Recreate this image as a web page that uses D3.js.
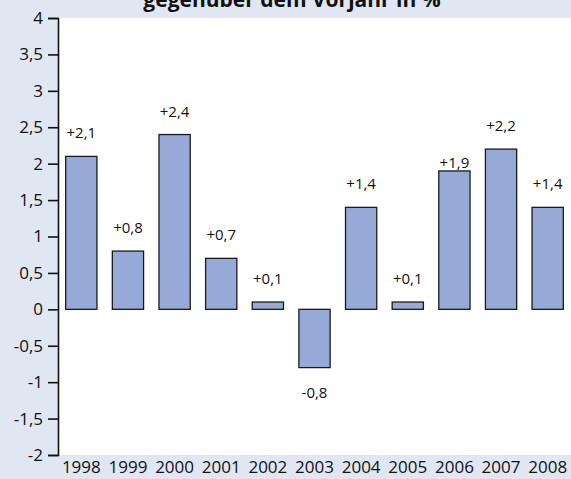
<!DOCTYPE html>
<html>
<head>
<meta charset="utf-8">
<script src="https://cdn.jsdelivr.net/npm/d3@7"></script>
<style>
    html, body { margin: 0; padding: 0; background: #e0e7f2; }
    svg { display: block; font-family: "Open Sans", sans-serif; }
</style>
</head>
<body>
<div id="chart"></div>
<script>
// Veränderung gegenüber dem Vorjahr in %
const years = ['1998', '1999', '2000', '2001', '2002', '2003', '2004', '2005', '2006', '2007', '2008'];
const changes = [2.1, 0.8, 2.4, 0.7, 0.1, -0.8, 1.4, 0.1, 1.9, 2.2, 1.4];
const yTicks = [-2, -1.5, -1, -0.5, 0, 0.5, 1, 1.5, 2, 2.5, 3, 3.5, 4];
const titleText = 'gegenüber dem Vorjahr in %';

const width = 571;
const height = 479;
const margin = { top: 18, right: 0, bottom: 24, left: 58 };

// label gap above bar (the 2006 label sits lower in the original)
const labelGap = d => d.year === '2006' ? 3 : 18;

const fmt = v => (v > 0 ? '+' : '') + v.toFixed(1).replace('.', ',');
const tickFmt = v => String(v).replace('.', ',');

const svg = d3.select('#chart')
    .append('svg')
    .attr('width', width)
    .attr('height', height);

// white plot area
svg.append('rect')
    .attr('x', margin.left)
    .attr('y', margin.top)
    .attr('width', width - margin.left - margin.right)
    .attr('height', height - margin.top - margin.bottom)
    .attr('fill', '#ffffff');

// title (top line is cut off in the original)
svg.append('text')
    .attr('x', 292)
    .attr('y', 7)
    .attr('text-anchor', 'middle')
    .style('font-size', '21px')
    .style('font-weight', 'bold')
    .attr('fill', '#111')
    .text(titleText);

const x = d3.scaleBand()
    .domain(years)
    .range([margin.left, width - margin.right])
    .paddingInner(0.33)
    .paddingOuter(0.165);

const y = d3.scaleLinear()
    .domain([-2, 4])
    .range([height - margin.bottom, margin.top]);

const data = years.map((year, i) => ({ year, value: changes[i] }));

// bars
svg.selectAll('.bar')
    .data(data)
    .join('rect')
    .attr('class', 'bar')
    .attr('x', d => x(d.year))
    .attr('y', d => y(Math.max(0, d.value)))
    .attr('width', x.bandwidth())
    .attr('height', d => Math.abs(y(d.value) - y(0)))
    .attr('fill', '#97aad7')
    .attr('stroke', '#1a1a1a')
    .attr('stroke-width', 1.3);

// value labels
svg.selectAll('.val')
    .data(data)
    .join('text')
    .attr('class', 'val')
    .attr('x', d => x(d.year) + x.bandwidth() / 2)
    .attr('y', d => d.value >= 0 ? y(d.value) - labelGap(d) : y(d.value) + 30)
    .attr('text-anchor', 'middle')
    .style('font-size', '15px')
    .attr('fill', '#111')
    .text(d => fmt(d.value));

// y axis
const yAxis = d3.axisLeft(y)
    .tickValues(yTicks)
    .tickFormat(tickFmt)
    .tickSize(10)
    .tickPadding(5);

const gy = svg.append('g')
    .attr('transform', `translate(${margin.left},0)`)
    .call(yAxis);

gy.select('.domain').attr('stroke', '#111').attr('stroke-width', 1.6);
gy.selectAll('.tick line').attr('stroke', '#111').attr('stroke-width', 1.6);
gy.selectAll('.tick text')
    .attr('fill', '#111')
    .style('font-size', '17px')
    .style('font-family', '"Open Sans", sans-serif');

// x axis labels
const xAxis = d3.axisBottom(x)
    .tickSize(0)
    .tickPadding(6);

const gx = svg.append('g')
    .attr('transform', `translate(0,${height - margin.bottom})`)
    .call(xAxis);

gx.select('.domain').remove();
gx.selectAll('.tick text')
    .attr('fill', '#111')
    .style('font-size', '17px')
    .style('font-family', '"Open Sans", sans-serif');
</script>
</body>
</html>
